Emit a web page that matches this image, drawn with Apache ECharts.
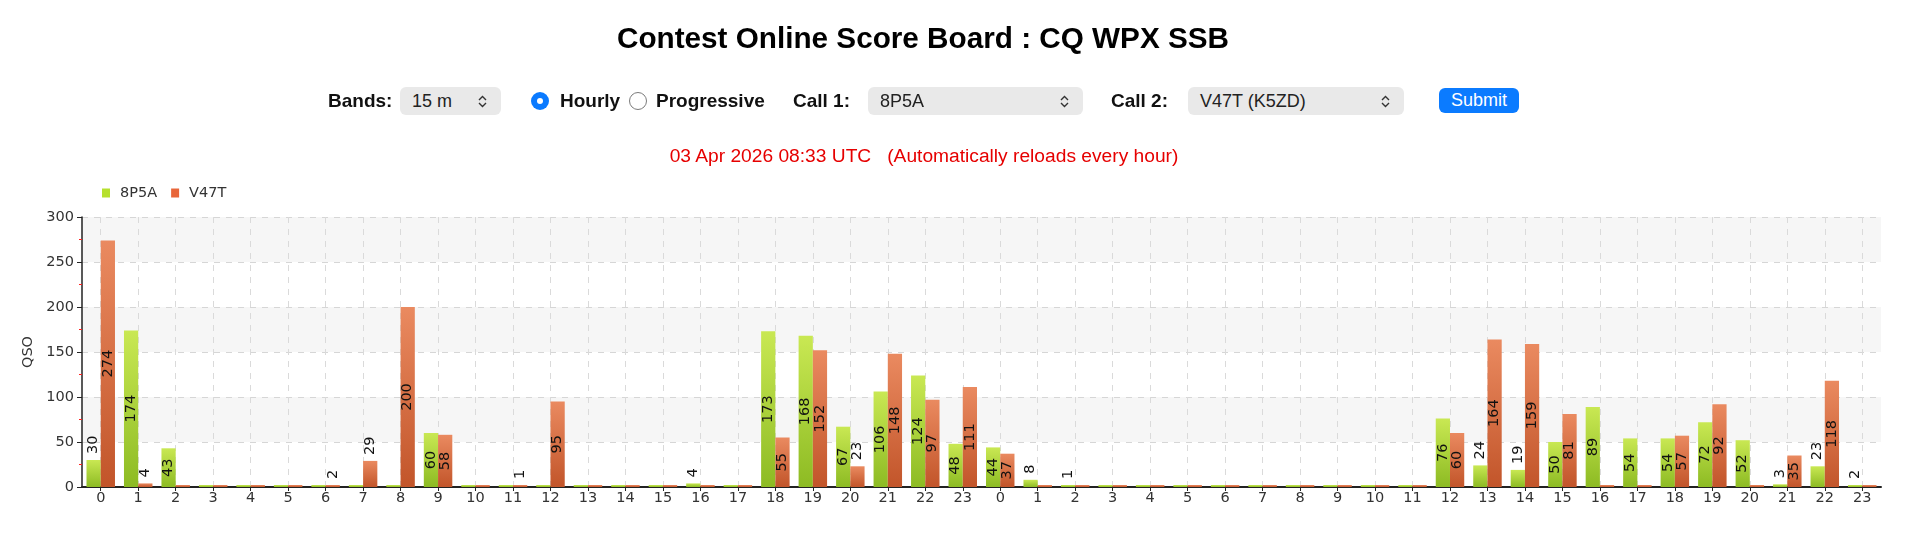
<!DOCTYPE html>
<html>
<head>
<meta charset="utf-8">
<script src="https://cdn.jsdelivr.net/npm/echarts@6/dist/echarts.min.js"></script>
<style>
  html, body { margin: 0; padding: 0; background: #fff; width: 1920px; height: 540px; overflow: hidden; }
  #chart { position: absolute; left: 0; top: 0; width: 1920px; height: 540px; }
  .hdr { position: absolute; font-family: "Liberation Sans", Arial, Helvetica, sans-serif; white-space: nowrap; z-index: 2; }
  .title { left: 0; width: 1846px; text-align: center; top: 21px; font-size: 29.7px; line-height: 34px; font-weight: bold; color: #000; }
  .lbl { top: 90px; font-size: 19px; line-height: 22px; font-weight: bold; color: #111; }
  .sel { top: 87px; height: 28px; background: #e9e9e9; border-radius: 6px; font-size: 18px; color: #222; box-sizing: border-box; padding-left: 12px; display: flex; align-items: center; }
  .sel svg { position: absolute; right: 14px; top: 8px; }
  .radio { top: 92px; width: 18px; height: 18px; border-radius: 50%; box-sizing: border-box; }
  .r-on { background: #0a7aff; }
  .r-on::after { content: ""; position: absolute; left: 6px; top: 6px; width: 6px; height: 6px; border-radius: 50%; background: #fff; }
  .r-off { border: 1.5px solid #7a7a7a; background: #fff; }
  .btn { left: 1439px; top: 88px; width: 80px; height: 25px; border-radius: 6px; background: #0b7bff; color: #fff; font-size: 18px; line-height: 25px; text-align: center; }
  .note { left: 0; width: 1848px; text-align: center; top: 145px; font-size: 19.2px; line-height: 22px; color: #e60000; }
</style>
</head>
<body>
<div id="chart"></div>
<div class="hdr title">Contest Online Score Board : CQ WPX SSB</div>
<div class="hdr lbl" style="left:328px">Bands:</div>
<div class="hdr sel" style="left:400px;width:101px">15 m<svg width="9" height="13" viewBox="0 0 9 13"><path d="M1 5 L4.5 1.5 L8 5 M1 8 L4.5 11.5 L8 8" fill="none" stroke="#333" stroke-width="1.4"/></svg></div>
<div class="hdr radio r-on" style="left:531px"></div>
<div class="hdr lbl" style="left:560px">Hourly</div>
<div class="hdr radio r-off" style="left:629px"></div>
<div class="hdr lbl" style="left:656px">Progressive</div>
<div class="hdr lbl" style="left:793px">Call 1:</div>
<div class="hdr sel" style="left:868px;width:215px">8P5A<svg width="9" height="13" viewBox="0 0 9 13"><path d="M1 5 L4.5 1.5 L8 5 M1 8 L4.5 11.5 L8 8" fill="none" stroke="#333" stroke-width="1.4"/></svg></div>
<div class="hdr lbl" style="left:1111px">Call 2:</div>
<div class="hdr sel" style="left:1188px;width:216px">V47T (K5ZD)<svg width="9" height="13" viewBox="0 0 9 13"><path d="M1 5 L4.5 1.5 L8 5 M1 8 L4.5 11.5 L8 8" fill="none" stroke="#333" stroke-width="1.4"/></svg></div>
<div class="hdr btn">Submit</div>
<div class="hdr note">03 Apr 2026 08:33 UTC &nbsp;&nbsp;(Automatically reloads every hour)</div>
<script>
// ---- data ----
const hours = ['0','1','2','3','4','5','6','7','8','9','10','11','12','13','14','15','16','17','18','19','20','21','22','23',
               '0','1','2','3','4','5','6','7','8','9','10','11','12','13','14','15','16','17','18','19','20','21','22','23'];
const seriesNames = ['8P5A', 'V47T'];
const call1 = [30,174,43,0,0,0,0,0,0,60,0,0,0,0,0,0,4,0,173,168,67,106,124,48,
               44,8,1,0,0,0,0,0,0,0,0,0,76,24,19,50,89,54,54,72,52,3,23,2];
const call2 = [274,4,0,0,0,0,2,29,200,58,0,1,95,0,0,0,0,0,55,152,23,148,97,111,
               37,0,0,0,0,0,0,0,0,0,0,0,60,164,159,81,0,0,57,92,0,35,118,0];
const yTicks = { min: 0, max: 300, interval: 50 };

// ---- build ----
const FONT = 'DejaVu Sans';
function items(arr) {
  return arr.map(function (v) {
    if (v === 0) return { value: v, label: { show: false } };
    if (v >= 33) return { value: v, label: { position: 'inside' } };
    return { value: v, label: { position: 'top', align: 'left', verticalAlign: 'middle', distance: 6 } };
  });
}
function grad(top, bottom) {
  return new echarts.graphic.LinearGradient(0, 0, 0, 1, [{ offset: 0, color: top }, { offset: 1, color: bottom }]);
}
const barLabel = { show: true, rotate: 90, fontFamily: FONT, fontSize: 14.5, color: '#111' };

const chart = echarts.init(document.getElementById('chart'), null, { renderer: 'canvas' });
chart.setOption({
  animation: false,
  textStyle: { fontFamily: FONT },
  legend: {
    data: [
      { name: seriesNames[0], itemStyle: { color: '#b6e02e' } },
      { name: seriesNames[1], itemStyle: { color: '#e8663a' } }
    ],
    left: 97, top: 180.5, itemWidth: 8, itemHeight: 9, itemGap: 14, icon: 'rect',
    textStyle: { fontFamily: FONT, fontSize: 14.5, color: '#333', padding: [0, 0, 0, 5] }
  },
  grid: { left: 82, right: 39, top: 217, bottom: 53, containLabel: false },
  xAxis: {
    type: 'category', data: hours, boundaryGap: true,
    axisLine: { lineStyle: { color: '#222', width: 2 } },
    axisTick: { show: true, alignWithLabel: true, length: 4, lineStyle: { color: '#222' } },
    axisLabel: { interval: 0, fontFamily: FONT, fontSize: 14.5, color: '#333', margin: 4 },
    splitLine: { show: true, alignWithLabel: true, interval: 0, lineStyle: { type: [6, 6], color: '#dadada' } }
  },
  yAxis: {
    type: 'value', min: yTicks.min, max: yTicks.max, interval: yTicks.interval,
    name: 'QSO', nameLocation: 'middle', nameGap: 40,
    nameTextStyle: { fontFamily: FONT, fontSize: 14.5, color: '#333' },
    axisLine: { show: true, lineStyle: { color: '#222', width: 1.5 } },
    axisTick: { show: true, length: 5, lineStyle: { color: '#222' } },
    minorTick: { show: true, splitNumber: 2, length: 3, lineStyle: { color: '#ff2020' } },
    axisLabel: { fontFamily: FONT, fontSize: 14.5, color: '#333', margin: 8 },
    splitLine: { show: true, lineStyle: { type: [6, 6], color: '#d6d6d6' } },
    splitArea: { show: true, areaStyle: { color: ['#ffffff', '#f6f6f6'] } }
  },
  series: [
    {
      name: seriesNames[0], type: 'bar', data: items(call1),
      barGap: '0%', barCategoryGap: '24%', barMinHeight: 2,
      itemStyle: { color: grad('#c9e853', '#8dbb23') },
      label: barLabel
    },
    {
      name: seriesNames[1], type: 'bar', data: items(call2),
      barGap: '0%', barCategoryGap: '24%', barMinHeight: 2,
      itemStyle: { color: grad('#ea8a60', '#c2552a') },
      label: barLabel
    }
  ]
});
</script>
</body>
</html>
